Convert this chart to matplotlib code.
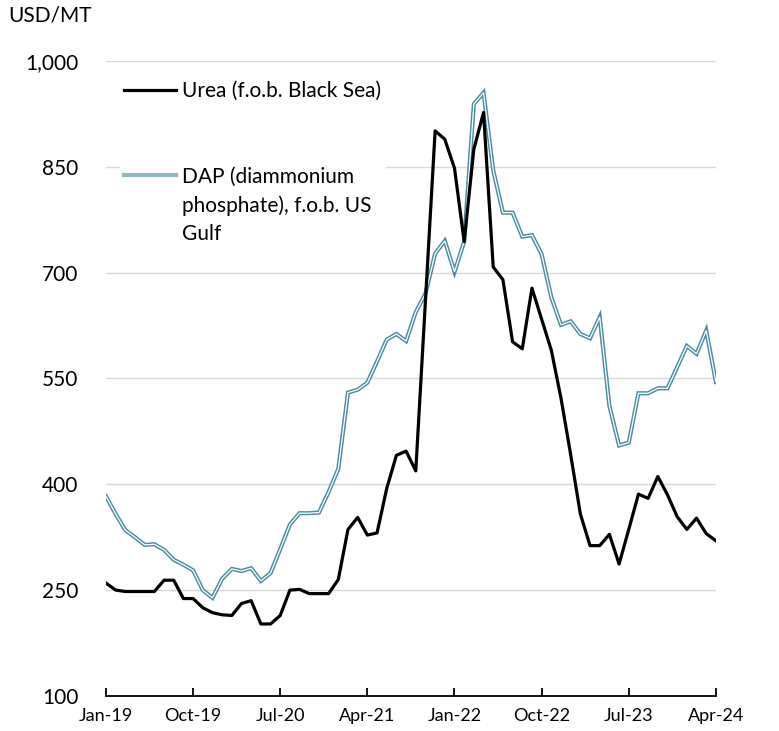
import numpy as np
import pandas as pd
import matplotlib
matplotlib.use("Agg")
import matplotlib.pyplot as plt
import matplotlib.patheffects as pe
from matplotlib.lines import Line2D
from matplotlib.legend_handler import HandlerLine2D

plt.rcParams['font.family'] = ['Lato', 'DejaVu Sans']

# monthly prices, USD/MT, Jan-19 .. Apr-24
months = pd.period_range('2019-01', '2024-04', freq='M')
urea = [260, 250, 248, 248, 248, 248, 264, 264, 238, 238, 225, 218, 215, 214, 231, 235,
        202, 202, 214, 250, 251, 245, 245, 245, 265, 336, 353, 328, 331, 394, 441, 447,
        419, 660, 901, 889, 848, 744, 875, 927, 708, 690, 602, 592, 678, 634, 590, 522,
        442, 358, 313, 313, 329, 287, 336, 386, 380, 411, 385, 354, 336, 352, 330, 320]
dap = [383, 358, 335, 325, 314, 315, 307, 293, 286, 278, 250, 239, 266, 280, 277, 281,
       263, 274, 308, 343, 359, 359, 360, 389, 422, 530, 534, 544, 574, 605, 613, 603,
       644, 670, 727, 745, 701, 744, 939, 955, 845, 785, 785, 751, 753, 726, 665, 626,
       631, 613, 607, 637, 511, 455, 459, 529, 529, 536, 536, 566, 596, 585, 618, 545]
yticks = [100, 250, 400, 550, 700, 850, 1000]

x = np.arange(len(months))

fig = plt.figure(figsize=(7.79, 7.31), dpi=100)
ax = fig.add_axes([0.136, 0.048, 0.783, 0.8686])

dap_col = '#4a8da3'
ax.plot(x, dap, color='white', lw=0.9, solid_joinstyle='miter', zorder=3,
        path_effects=[pe.Stroke(linewidth=3.0, foreground=dap_col), pe.Normal()])
ax.plot(x, urea, color='black', lw=2.3, zorder=4)

ax.set_xlim(0, len(months) - 1)
ax.set_ylim(100, 1000)
ax.set_yticks(yticks)
ax.set_yticklabels([f'{v:,}' for v in yticks], fontsize=15)
tick_pos = x[::9]
ax.set_xticks(tick_pos)
ax.set_xticklabels([months[i].strftime('%b-%y') for i in tick_pos], fontsize=13)
ax.grid(axis='y', color='#d9d9d9', lw=1.0, zorder=0)
ax.set_axisbelow(True)
for s in ['top', 'right', 'left']:
    ax.spines[s].set_visible(False)
ax.spines['bottom'].set_linewidth(1.3)
ax.tick_params(axis='y', length=0, pad=20)
ax.tick_params(axis='x', direction='in', length=6, width=1.3, pad=9)

fig.text(0.01, 0.979, 'USD/MT', fontsize=15, va='center', ha='left')


class TopHandler(HandlerLine2D):
    def __init__(self, shift=0, **kw):
        super().__init__(**kw)
        self.shift = shift

    def create_artists(self, legend, orig_handle, xdescent, ydescent, width,
                       height, fontsize, trans):
        arts = super().create_artists(legend, orig_handle, xdescent, ydescent,
                                      width, height, fontsize, trans)
        for a in arts:
            a.set_ydata(np.asarray(a.get_ydata(), dtype=float) + self.shift)
        return arts


h_urea = Line2D([], [], color='black', lw=2.3)
h_dap = Line2D([], [], color='#8fb6c5', lw=3.0)
leg = ax.legend([h_urea, h_dap],
                ['Urea (f.o.b. Black Sea)', 'DAP (diammonium\nphosphate), f.o.b. US\nGulf'],
                handler_map={h_dap: TopHandler(shift=22.5)},
                loc='upper left', bbox_to_anchor=(0.023, 0.975), borderaxespad=0,
                borderpad=0.2, fontsize=15, handlelength=2.5, handletextpad=0.3,
                labelspacing=3.18, frameon=True, fancybox=False, framealpha=1,
                facecolor='white', edgecolor='none')
leg.get_texts()[1].set_linespacing(1.5)

fig.savefig('out.png', dpi=100)
